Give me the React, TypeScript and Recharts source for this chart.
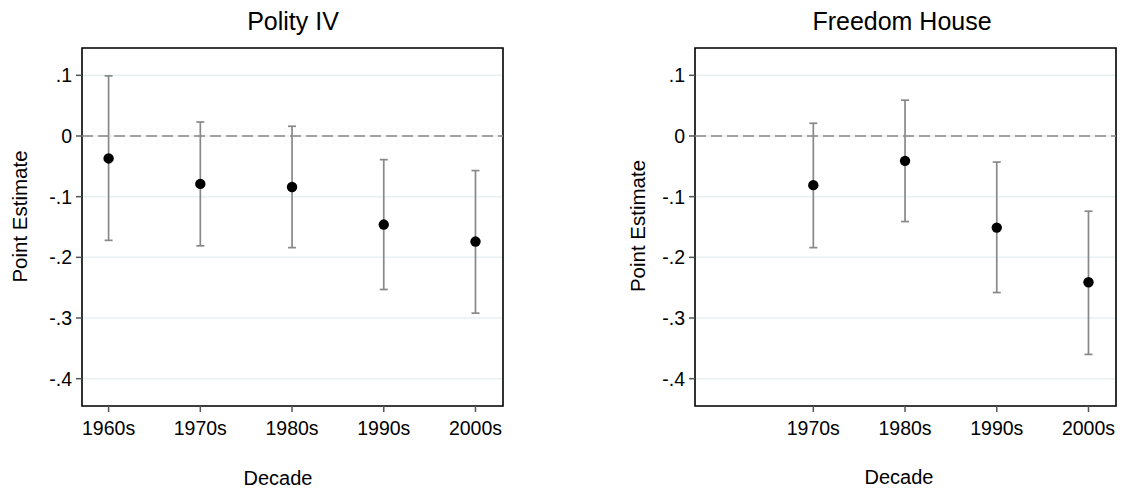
import React from "react";
import {
  ScatterChart,
  Scatter,
  XAxis,
  YAxis,
  CartesianGrid,
  ReferenceLine,
  ReferenceArea,
  ErrorBar,
} from "recharts";

// ---- Data ----
const allDecades = ["1960s", "1970s", "1980s", "1990s", "2000s"];

const polityDecades = ["1960s", "1970s", "1980s", "1990s", "2000s"];
const polityEst = [-0.037, -0.079, -0.084, -0.146, -0.174];
const polityLo = [-0.172, -0.181, -0.184, -0.253, -0.292];
const polityHi = [0.099, 0.023, 0.016, -0.039, -0.057];

const fhDecades = ["1970s", "1980s", "1990s", "2000s"];
const fhEst = [-0.081, -0.041, -0.151, -0.241];
const fhLo = [-0.184, -0.141, -0.258, -0.36];
const fhHi = [0.021, 0.059, -0.043, -0.124];

const yTicks = [-0.4, -0.3, -0.2, -0.1, 0, 0.1];
const polityXTicks = [0, 1, 2, 3, 4];
const fhXTicks = [1, 2, 3, 4];

const X_DOMAIN: [number, number] = [-0.29, 4.3];
const Y_DOMAIN: [number, number] = [-0.445, 0.145];

const FONT = '"Liberation Sans", Arial, Helvetica, sans-serif';

function buildRows(decs: string[], est: number[], lo: number[], hi: number[]) {
  return decs.map((d, i) => ({
    x: allDecades.indexOf(d),
    y: est[i],
    err: [est[i] - lo[i], hi[i] - est[i]],
  }));
}

const polityRows = buildRows(polityDecades, polityEst, polityLo, polityHi);
const fhRows = buildRows(fhDecades, fhEst, fhLo, fhHi);

const fmtY = (v: number) => {
  if (Math.abs(v) < 1e-9) return "0";
  const s = String(Math.round(Math.abs(v) * 10));
  return (v < 0 ? "-" : "") + "." + s;
};

const Dot = (p: any) => <circle cx={p.cx} cy={p.cy} r={5.2} fill="#000" />;

function Panel({
  rows,
  xTicks,
  width,
  yAxisWidth,
  marginRight,
}: {
  rows: any[];
  xTicks: number[];
  width: number;
  yAxisWidth: number;
  marginRight: number;
}) {
  const tickStyle = { fill: "#000", fontSize: 19.5, fontFamily: FONT };
  return (
    <ScatterChart
      width={width}
      height={493}
      margin={{ top: 48, right: marginRight, bottom: 37, left: 0 }}
    >
      <CartesianGrid horizontal vertical={false} stroke="#e9f0f2" strokeWidth={1.5} />
      <XAxis
        type="number"
        dataKey="x"
        domain={X_DOMAIN}
        allowDataOverflow
        ticks={xTicks}
        interval={0}
        tickFormatter={(v: number) => allDecades[Math.round(v)]}
        height={50}
        axisLine={false}
        tickLine={{ stroke: "#555", strokeWidth: 1.5 }}
        tickSize={6}
        tickMargin={9}
        tick={tickStyle}
      />
      <YAxis
        type="number"
        dataKey="y"
        domain={Y_DOMAIN}
        allowDataOverflow
        ticks={yTicks}
        interval={0}
        tickFormatter={fmtY}
        width={yAxisWidth}
        axisLine={false}
        tickLine={{ stroke: "#555", strokeWidth: 1.5 }}
        tickSize={6}
        tickMargin={4}
        tick={tickStyle}
      />
      <ReferenceLine y={0} stroke="#888" strokeDasharray="11 5" strokeWidth={1.6} />
      <Scatter data={rows} isAnimationActive={false} shape={Dot}>
        <ErrorBar
          dataKey="err"
          direction="y"
          width={4}
          stroke="#888"
          strokeWidth={1.7}
          isAnimationActive={false}
        />
      </Scatter>
      <ReferenceArea
        x1={X_DOMAIN[0]}
        x2={X_DOMAIN[1]}
        y1={Y_DOMAIN[0]}
        y2={Y_DOMAIN[1]}
        fill="none"
        fillOpacity={0}
        stroke="#000"
        strokeWidth={1.6}
        ifOverflow="visible"
      />
    </ScatterChart>
  );
}

export default function App() {
  return (
    <div
      style={{
        position: "absolute",
        left: 0,
        top: 0,
        width: 1140,
        height: 493,
        background: "#fff",
        fontFamily: FONT,
      }}
    >
      <div style={{ position: "absolute", left: 0, top: 0 }}>
        <Panel rows={polityRows} xTicks={polityXTicks} width={560} yAxisWidth={82} marginRight={57} />
      </div>
      <div style={{ position: "absolute", left: 600, top: 0 }}>
        <Panel rows={fhRows} xTicks={fhXTicks} width={540} yAxisWidth={95} marginRight={24} />
      </div>
      <svg
        width={1140}
        height={493}
        style={{ position: "absolute", left: 0, top: 0, pointerEvents: "none" }}
        fontFamily={FONT}
      >
        <text x={293} y={30} textAnchor="middle" fontSize={25} fill="#000">
          Polity IV
        </text>
        <text x={902} y={30} textAnchor="middle" fontSize={25} fill="#000">
          Freedom House
        </text>
        <text x={278} y={484.5} textAnchor="middle" fontSize={20} fill="#000">
          Decade
        </text>
        <text x={899} y={484} textAnchor="middle" fontSize={20} fill="#000">
          Decade
        </text>
        <text
          x={26.5}
          y={216.5}
          textAnchor="middle"
          fontSize={20.5}
          fill="#000"
          transform="rotate(-90 26.5 216.5)"
        >
          Point Estimate
        </text>
        <text
          x={645}
          y={226}
          textAnchor="middle"
          fontSize={20.5}
          fill="#000"
          transform="rotate(-90 645 226)"
        >
          Point Estimate
        </text>
      </svg>
    </div>
  );
}
